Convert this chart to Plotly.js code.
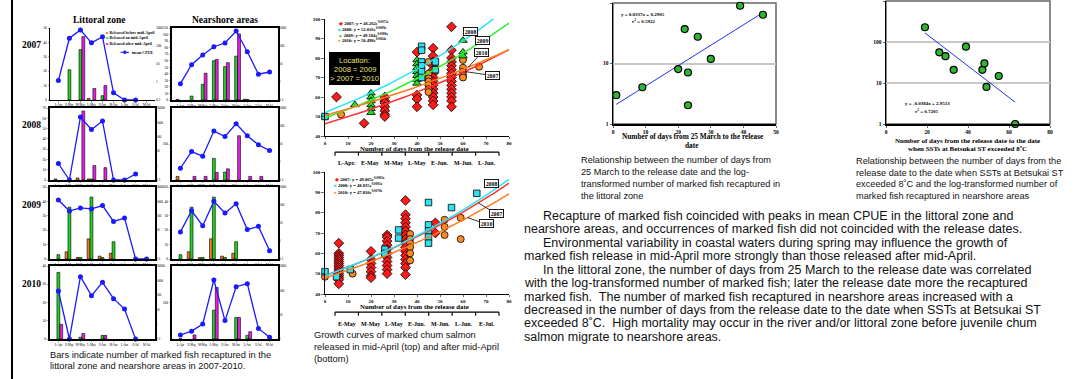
<!DOCTYPE html>
<html>
<head>
<meta charset="utf-8">
<script src="https://cdn.plot.ly/plotly-3.0.1.min.js"></script>
<style>
html,body{margin:0;padding:0;background:#ffffff;}
#chart{width:1078px;height:379px;}
</style>
</head>
<body>
<div id="chart"></div>
<script>
// ================= DATA =================
const periods = ['L-Apr','E-May','M-May','L-May','E-Jun','M-Jun','L-Jun','E-Jul','M-Jul'];
const years = ['2007','2008','2009','2010'];

// Littoral zone: number of recaptured marked fish (bars) and mean CPUE (line)
const lit07Before = [0,0,0,1,0,0,0,0,0];
const lit07On     = [0,21,35,0,3,0,0,0,0];
const lit07After  = [0,0,44,8,10,0,0,0,0];
const lit07Cpue   = [1.2,270,780,150,330,0.25,0.1,0.1,null];

const lit08Before = [1,0,2,1,0,0,0,0,0];
const lit08On     = [0,0,0,1,0,0,0,0,0];
const lit08After  = [0,0,67,14,12,0,0,0,0];
const lit08Cpue   = [1.4,0.1,2350,320,1240,0.1,0.1,0.26,null];

const lit09Before = [0,5,1,14,2,4,0,0,0];
const lit09On     = [3,36,1,43,1,12,0,0,0];
const lit09After  = [0,0,0,0,0,0,0,0,0];
const lit09Cpue   = [1250,215,350,300,510,41,70,0.1,0.1];

const lit10Before = [0,0,0,0,0,0,0,0,0];
const lit10On     = [36.5,0,1,0,2,0,0,0,0];
const lit10After  = [8,0,3,0,2,0,0,0,0];
const lit10Cpue   = [195,0.1,1860,93,760,58,11.3,0.1,null];

// Nearshore areas
const ns07Before = [1,0,0,0,0,0,1,0,0];
const ns07On     = [0,6,24,60,51,67,1,0,0];
const ns07After  = [0,0,41,62,57,101,0,0,0];
const ns07Cpue   = [0.81,9.2,32,91,146,680,48,2.7,3.6];

const ns08Before = [10,0,0,0,0,0,0,0,0];
const ns08On     = [0,0,0,60,22,0,0,0,0];
const ns08After  = [0,10,10,21,31,123,10,10,0];
const ns08Cpue   = [0.45,3.8,2.1,52,26,134,29,9,4.3];

const ns09Before = [0,5,1,14,2,4,0,0,0];
const ns09On     = [3,36,1,43,1,12,0,0,0];
const ns09After  = [0,0,0,0,0,0,0,0,0];
const ns09Cpue   = [3.2,48,7.1,159,36,118,4.3,6.5,0.29];

const ns10Before = [0,0,0,0,0,0,0,0,0];
const ns10On     = [1,0,0,79,0,59,10,0,0];
const ns10After  = [0,11,0,141,0,59,20,0,0];
const ns10Cpue   = [1.46,2.1,4.1,265,5.7,141,188,2.7,1.17];

// Growth of fish released in mid-April (top)
const gA07Days = [5,17,26,26,26,26,26,26,26,40,40,40,40,47,47,47,47,47,47,47,47,47,47,47,47,47,47,55,55,55,55,55,55,55,55,55,55,55,55,55,55,55];
const gA07Len  = [60,46.5,60,58,57,55,53,51,50,83,61,59,55,85,81,78,76,74,72,70,68,66,64,62,60,58,56,96,84,80,78,76,74,72,70,68,66,64,62,60,58,55];
const gA08Days = [0,42,42,42,42,42,42,48,48];
const gA08Len  = [50,86,84,78,76,73,70,78,74];
const gA09Days = [13,20,20,20,20,20,20,40,40,40,40,40,40,40,60,60,60];
const gA09Len  = [56,62,60,58,56,54,52,79,77,75,73,71,69,67,89,83,81];
const gA10Days = [0,7,45,45,45,45,45,45,45,60,60,60,60,60,67];
const gA10Len  = [50,51,78,72,69.5,68,66,64,62.5,79,75,73,71,70,75.5];
const gAFit = {'2007':[46.262,0.0075],'2008':[52.016,0.0089],'2009':[49.184,0.0086],'2010':[50.498,0.0064]};

// Growth of fish released after mid-April (bottom)
const gB07Days = [6,6,6,6,6,6,6,6,6,6,6,6,6,6,6,6,20,20,20,20,20,20,20,27,27,27,27,27,27,27,27,27,27,27,35,35,35,35,35,35,35,35,35,35,35,35,35,35,35,35,48,48];
const gB07Len  = [65,60,59,58,57,56,55,54,53,52,51,50,49,48,47,45,61,57,55,53,51,49,48,69,68,66,64,62,60,58,56,54,52,50,86,79,77,75,73,71,69,67,65,63,61,59,57,55,53,49.5,75,70];
const gB08Days = [0,5,11,26,26,32,32,45,45,45,45,45,55,66];
const gB08Len  = [51,48.5,52,62,60,71.5,67.5,85,74,71,68,65,82.5,89.5];
const gB10Days = [0,12,37,37,37,37,37,37,52,52,52,59,59];
const gB10Len  = [48.5,50,69.5,67,65,63,60,56.5,76.5,73,69,77.5,67];
const gBFit = {'2007':[49.065,0.0082],'2008':[48.835,0.0085],'2010':[47.810,0.0078]};

const monthsTop = ['L-Apr.','E-May','M-May','L-May','E-Jun.','M-Jun.','L-Jun.'];
const monthsBottom = ['E-May','M-May','L-May','E-Jun.','M-Jun.','L-Jun.','E-Jul.'];

// Littoral: days from 25 March to release vs recaptured fish
const litDays = [1,9,20,22,23,23,26,30,39,46];
const litFish = [3.0,4.05,8.1,37,7.1,2.04,27.7,11.9,90,64];
const litFit = [0.0337,0.2905];

// Nearshore: days from release to SST > 8C vs recaptured fish
const nsDays = [19,26,29,33,39,47,48,49,55,63];
const nsFish = [229,56,45,21,77,21,30,8,14.8,1];
const nsFit = [-0.0384,2.9513];

// ================= BUILD =================
const W = 1078, H = 379;
const SERIF = 'Liberation Serif, Times New Roman, serif';
const SANS = 'Liberation Sans, Arial, sans-serif';
const ORANGE = '#f07a1e', GREEN = '#1ed21e', MAGENTA = '#e61ee6', BLUE = '#1a1aff';
const id = n => n === 1 ? '' : String(n);
const dX = (a,b) => [a/W, b/W];
const dY = (t,b) => [1-b/H, 1-t/H];
const nz = arr => arr.map(v => v === 0 ? null : v);

const layout = {
  width: W, height: H, margin: {l:0,r:0,t:0,b:0},
  paper_bgcolor: '#ffffff', plot_bgcolor: 'rgba(0,0,0,0)',
  showlegend: false, barmode: 'group', bargap: 0.22, bargroupgap: 0,
  annotations: [], shapes: []
};
const traces = [];

function ann(x, y, text, size, o) {
  return Object.assign({xref:'paper', yref:'paper', x:x/W, y:1-y/H, text:text, showarrow:false,
    xanchor:'center', yanchor:'middle', font:{family:SANS, size:size, color:'#111'}}, o || {});
}
function bold(size, color) { return {family:SERIF, size:size, color:color || '#000', weight:'bold'}; }
function hline(x0,y0,x1,y1,w,c) {
  return {type:'line', xref:'paper', yref:'paper', x0:x0/W, x1:x1/W, y0:1-y0/H, y1:1-y1/H, line:{color:c||'#000', width:w||1}};
}

// ---- bar panels ----
const rightVals = [0.1,1,10,100,1000,10000];
const barCfg = [
  {b:lit07Before,o:lit07On,a:lit07After,c:lit07Cpue, xs:[50,155], ys:[28,100], left:[0,50], lt:[0,10,20,30,40,50], right:[-1,3], box:false},
  {b:ns07Before,o:ns07On,a:ns07After,c:ns07Cpue, xs:[172,278], ys:[28,100], left:[0,110], lt:[0,10,20,30,40,50,60,70,80,90,100,110], right:[-1,3], box:true},
  {b:lit08Before,o:lit08On,a:lit08After,c:lit08Cpue, xs:[50,155], ys:[108,180], left:[0,70], lt:[0,10,20,30,40,50,60,70], right:[-1,4], box:true},
  {b:ns08Before,o:ns08On,a:ns08After,c:ns08Cpue, xs:[172,278], ys:[108,180], left:[0,200], lt:[100], right:[-1,3], box:true},
  {b:lit09Before,o:lit09On,a:lit09After,c:lit09Cpue, xs:[50,155], ys:[187,259], left:[0,50], lt:[0,10,20,30,40,50], right:[-1,4], box:true},
  {b:ns09Before,o:ns09On,a:ns09After,c:ns09Cpue, xs:[172,278], ys:[187,259], left:[0,50], lt:[0,10,20,30,40,50], right:[-1,3], box:true},
  {b:lit10Before,o:lit10On,a:lit10After,c:lit10Cpue, xs:[50,155], ys:[266,339], left:[0,40], lt:[0,10,20,30,40], right:[-1,4], box:true},
  {b:ns10Before,o:ns10On,a:ns10After,c:ns10Cpue, xs:[172,278], ys:[266,339], left:[0,200], lt:[100], right:[0,3], box:true}
];
barCfg.forEach((p, i) => {
  const xn = i + 1, yl = i + 1, yr = i + 9;
  const xa = 'x' + id(xn), ya = 'y' + id(yl), yb = 'y' + id(yr);
  const lw = p.box ? 1.8 : 1;
  layout['xaxis' + id(xn)] = {domain: dX(p.xs[0], p.xs[1]), anchor: ya, type:'category',
    showline:true, linecolor:'#000', linewidth:lw, mirror:p.box, ticks:'outside', ticklen:1.5, tickwidth:0.5,
    tickangle:0, tickfont:{family:SERIF, size:3, color:'#000'}, showgrid:false, zeroline:false, fixedrange:true};
  layout['yaxis' + id(yl)] = {domain: dY(p.ys[0], p.ys[1]), anchor: xa, range:p.left, tickvals:p.lt,
    showline:true, linecolor:'#000', linewidth:lw, mirror:p.box, ticks:'outside', ticklen:1.5, tickwidth:0.5,
    tickfont:{family:SERIF, size:3.5, color:'#000'}, showgrid:false, zeroline:false, fixedrange:true};
  const rv = rightVals.filter(v => Math.log10(v) >= p.right[0] - 1e-9 && Math.log10(v) <= p.right[1] + 1e-9);
  layout['yaxis' + id(yr)] = {overlaying: ya, anchor: xa, side:'right', type:'log', range:p.right,
    tickvals: rv, ticktext: rv.map(String), showline:false, ticks:'', showgrid:false, zeroline:false,
    tickfont:{family:SERIF, size:3.5, color:'#000'}, fixedrange:true};
  [[p.b, ORANGE], [p.o, GREEN], [p.a, MAGENTA]].forEach(([vals, col]) => {
    traces.push({type:'bar', x:periods, y:nz(vals), xaxis:xa, yaxis:ya,
      marker:{color:col, line:{color:'#000', width:0.6}}, hoverinfo:'skip'});
  });
  traces.push({type:'scatter', mode:'lines+markers', x:periods, y:p.c, xaxis:xa, yaxis:yb,
    line:{color:BLUE, width:1.3}, marker:{color:BLUE, size:5}, cliponaxis:false, hoverinfo:'skip'});
});

// titles & year labels
layout.annotations.push(ann(100, 20, 'Littoral zone', 9.5, {font:bold(9.5)}));
layout.annotations.push(ann(225, 20, 'Nearshore areas', 9.5, {font:bold(9.5)}));
[45, 125, 205, 284].forEach((yy, k) => layout.annotations.push(ann(31.5, yy, years[k], 9.5, {font:bold(9.5)})));
// bar legend
const legItems = [['Released before mid-April', ORANGE, 32.3], ['Released on mid-April', GREEN, 38], ['Released after mid-April', MAGENTA, 43]];
legItems.forEach(([t, c, yy]) => {
  layout.annotations.push(ann(103.5, yy, '<span style="color:' + c + '">■</span> ' + t, 4, {xanchor:'left', font:bold(4)}));
});
layout.shapes.push(hline(120.5, 52.3, 129, 52.3, 1, BLUE));
layout.shapes.push({type:'circle', xref:'paper', yref:'paper', x0:123.3/W, x1:126.3/W, y0:1-53.8/H, y1:1-50.8/H, fillcolor:BLUE, line:{color:BLUE, width:0.5}});
layout.annotations.push(ann(130, 52.3, 'mean CPUE', 4, {xanchor:'left', font:bold(4)}));
// caption 1
layout.annotations.push(ann(47.5, 355, 'Bars indicate number of marked fish recaptured in the', 9.3, {xanchor:'left'}));
layout.annotations.push(ann(47.5, 366, 'littoral zone and nearshore areas in 2007-2010.', 9.3, {xanchor:'left'}));
// left rule
layout.shapes.push(hline(12, 0, 12, 379, 2, '#000'));

// ---- growth panels ----
function growthAxes(xn, yn, ys) {
  layout['xaxis' + id(xn)] = {domain: dX(325, 509), anchor:'y' + id(yn), range:[0,80], dtick:10, tick0:0,
    showline:true, linecolor:'#000', linewidth:1.2, ticks:'outside', ticklen:1.5, tickwidth:0.8,
    tickfont:bold(5), showgrid:false, zeroline:false, fixedrange:true};
  layout['yaxis' + id(yn)] = {domain: dY(ys[0], ys[1]), anchor:'x' + id(xn), range:[40,100], dtick:10, tick0:40,
    showline:true, linecolor:'#000', linewidth:1.2, ticks:'outside', ticklen:2.5, tickwidth:0.8,
    tickfont:bold(5), showgrid:false, zeroline:false, fixedrange:true};
}
growthAxes(9, 17, [19, 136]);
growthAxes(10, 18, [172, 294]);
const sty = {
  '2007': {symbol:'diamond', color:'#ff1a1a', line:'#ff3030', size:7.5},
  '2008': {symbol:'square', color:'#2fe0f2', line:'#22e6f6', size:6.5},
  '2009': {symbol:'triangle-up', color:'#22dd22', line:'#33ee33', size:7.5},
  '2010': {symbol:'circle', color:'#ff8a1f', line:'#ff7a1a', size:7}
};
function pts(xs, ys, yr, xa, ya) {
  const s = sty[yr];
  traces.push({type:'scatter', mode:'markers', x:xs, y:ys, xaxis:xa, yaxis:ya, cliponaxis:false,
    marker:{symbol:s.symbol, size:s.size, color:s.color, line:{color:'#000', width:0.8}}, hoverinfo:'skip'});
}
function curve(c, yr, xa, ya) {
  const xs = [], ys = [];
  for (let d = 0; d <= 80; d += 1) { xs.push(d); ys.push(c[0] * Math.exp(c[1] * d)); }
  traces.push({type:'scatter', mode:'lines', x:xs, y:ys, xaxis:xa, yaxis:ya,
    line:{color:sty[yr].line, width:1.5}, hoverinfo:'skip'});
}
pts(gA07Days, gA07Len, '2007', 'x9', 'y17');
pts(gA10Days, gA10Len, '2010', 'x9', 'y17');
pts(gA09Days, gA09Len, '2009', 'x9', 'y17');
pts(gA08Days, gA08Len, '2008', 'x9', 'y17');
Object.keys(gAFit).forEach(k => curve(gAFit[k], k, 'x9', 'y17'));
pts(gB07Days, gB07Len, '2007', 'x10', 'y18');
pts(gB10Days, gB10Len, '2010', 'x10', 'y18');
pts(gB08Days, gB08Len, '2008', 'x10', 'y18');
Object.keys(gBFit).forEach(k => curve(gBFit[k], k, 'x10', 'y18'));

// growth legends
const symChar = {'2007':'◆','2008':'■','2009':'▲','2010':'●'};
const fmtFit = (k, c) => '<span style="color:' + sty[k].color + '">' + symChar[k] + '</span> ' + k + ': y = ' + c[0].toFixed(3) + 'e<sup>' + c[1].toFixed(4) + 'x</sup>';
Object.keys(gAFit).forEach((k, j) => layout.annotations.push(ann(335.5, 23.3 + j * 5.6, fmtFit(k, gAFit[k]), 4.6, {xanchor:'left', font:bold(4.6)})));
Object.keys(gBFit).forEach((k, j) => layout.annotations.push(ann(332, 179 + j * 6.4, fmtFit(k, gBFit[k]), 4.6, {xanchor:'left', font:bold(4.6)})));
// location box
layout.shapes.push({type:'rect', xref:'paper', yref:'paper', x0:329/W, x1:380/W, y0:1-85/H, y1:1-52/H, fillcolor:'#000', line:{width:0}});
[['Location:', 60], ['2008 = 2009', 70], ['> 2007 = 2010', 78.6]].forEach(([t, yy]) =>
  layout.annotations.push(ann(354.6, yy, t, 7.6, {font:{family:SANS, size:7.6, color:'#ece27a'}})));
// growth axis titles, brackets, months
layout.annotations.push(ann(414, 148.2, 'Number of days from the release date', 6.8, {font:bold(6.8)}));
layout.annotations.push(ann(414, 306.8, 'Number of days from the release date', 6.8, {font:bold(6.8)}));
function bracket(yb, labels, ly) {
  const t0 = 335, step = (499 - 335) / 7;
  layout.shapes.push(hline(t0, yb, 499, yb, 1.2));
  for (let k = 0; k <= 7; k++) layout.shapes.push(hline(t0 + k * step, yb, t0 + k * step, yb + 3.5, 1.2));
  labels.forEach((t, k) => layout.annotations.push(ann(t0 + (k + 0.5) * step, ly, t, 6, {font:bold(6)})));
}
bracket(152.2, monthsTop, 162.9);
bracket(312.2, monthsBottom, 323.5);
// curve label boxes
const boxFont = bold(5.8);
function lbox(x, y, t) { return ann(x, y, t, 5.8, {font:boxFont, bordercolor:'#000', borderwidth:0.9, borderpad:0.8, bgcolor:'#fff'}); }
function abox(xa, ya, c, d, t, ax, ay) {
  return {xref:xa, yref:ya, x:d, y:c[0] * Math.exp(c[1] * d), text:t, showarrow:true, arrowhead:0, arrowwidth:0.8, arrowcolor:'#000',
    ax:ax, ay:ay, font:boxFont, bordercolor:'#000', borderwidth:0.9, borderpad:0.8, bgcolor:'#fff'};
}
layout.annotations.push(lbox(470, 31.3, '2008'));
layout.annotations.push(lbox(482, 41, '2009'));
layout.annotations.push(abox('x9', 'y17', gAFit['2010'], 62.3, '2010', 13, -14.5));
layout.annotations.push(abox('x9', 'y17', gAFit['2007'], 60.9, '2007', 27, 4));
layout.annotations.push(lbox(491, 183, '2008'));
layout.annotations.push(abox('x10', 'y18', gBFit['2007'], 66.7, '2007', 18, 11));
layout.annotations.push(abox('x10', 'y18', gBFit['2010'], 62, '2010', 18.5, 6.3));
// caption 2
[['Growth curves of marked chum salmon', 335], ['released in mid-April (top) and after mid-April', 347], ['(bottom)', 359]].forEach(([t, yy]) =>
  layout.annotations.push(ann(312, yy, t, 9.3, {xanchor:'left'})));

// ---- scatter panels ----
function scatAxes(xn, yn, xs, ys, xr, dt, yr, yv) {
  layout['xaxis' + id(xn)] = {domain: dX(xs[0], xs[1]), anchor:'y' + id(yn), range:xr, dtick:dt, tick0:0,
    showline:true, linecolor:'#000', linewidth:1.5, ticks:'outside', ticklen:2, tickwidth:0.8,
    tickfont:bold(5.5), showgrid:false, zeroline:false, fixedrange:true};
  layout['yaxis' + id(yn)] = {domain: dY(ys[0], ys[1]), anchor:'x' + id(xn), type:'log', range:yr,
    tickvals:yv, ticktext:yv.map(String), showline:true, linecolor:'#000', linewidth:1.5, ticks:'outside', ticklen:2, tickwidth:0.8,
    tickfont:bold(5.5), showgrid:true, gridcolor:'#c8c8c8', gridwidth:2, zeroline:false, fixedrange:true};
  layout.shapes.push({type:'rect', xref:'x' + id(xn) + ' domain', yref:'y' + id(yn) + ' domain', x0:0, x1:1, y0:0, y1:1,
    line:{color:'#666', width:1.5}, layer:'below'});
}
scatAxes(11, 19, [613, 776], [3, 124], [0, 50], 10, [0, 2], [1, 10, 100]);
scatAxes(12, 20, [886, 1050], [1, 124], [0, 80], 20, [0, 3], [1, 10, 100, 1000]);
function fitLine(days, f, xa, ya) {
  const lo = Math.min(...days), hi = Math.max(...days);
  const xs = [lo, hi], ys = xs.map(d => Math.pow(10, f[0] * d + f[1]));
  traces.push({type:'scatter', mode:'lines', x:xs, y:ys, xaxis:xa, yaxis:ya, line:{color:'#2233ee', width:1}, hoverinfo:'skip'});
}
fitLine(litDays, litFit, 'x11', 'y19');
fitLine(nsDays, nsFit, 'x12', 'y20');
[[litDays, litFish, 'x11', 'y19'], [nsDays, nsFish, 'x12', 'y20']].forEach(([xs, ys, xa, ya]) =>
  traces.push({type:'scatter', mode:'markers', x:xs, y:ys, xaxis:xa, yaxis:ya, cliponaxis:false,
    marker:{symbol:'circle', size:7, color:'#2fb52f', line:{color:'#000', width:1.2}}, hoverinfo:'skip'}));
layout.annotations.push(ann(643, 14.3, 'y = ' + litFit[0] + 'x + ' + litFit[1], 5, {font:bold(5)}));
layout.annotations.push(ann(644, 21.3, 'r<sup>2</sup> = 0.5922', 5, {font:bold(5)}));
layout.annotations.push(ann(927.3, 103.3, 'y = ' + nsFit[0] + 'x + ' + nsFit[1], 5, {font:bold(5)}));
layout.annotations.push(ann(927.3, 110.7, 'r<sup>2</sup> = 0.7205', 5, {font:bold(5)}));
layout.annotations.push(ann(693.3, 136.7, 'Number of days from 25 March to the release', 7.3, {font:bold(7.3)}));
layout.annotations.push(ann(692.3, 145.7, 'date', 7.3, {font:bold(7.3)}));
layout.annotations.push(ann(967.7, 140.7, 'Number of days from the release date to the date', 7, {font:bold(7)}));
layout.annotations.push(ann(967.7, 148.7, 'when SSTs at Betsukai ST exceeded 8ºC', 7, {font:bold(7)}));
// captions 3 & 4
['Relationship between the number of days from', '25 March to the release date and the log-', 'transformed number of marked fish recaptured in', 'the littoral zone']
  .forEach((t, k) => layout.annotations.push(ann(579, 160.5 + k * 11.7, t, 9.2, {xanchor:'left'})));
['Relationship between the number of days from the', 'release date to the date when SSTs at Betsukai ST', 'exceeded 8˚C and the log-transformed number of', 'marked fish recaptured in nearshore areas']
  .forEach((t, k) => layout.annotations.push(ann(854, 161 + k * 11.7, t, 9.2, {xanchor:'left'})));

// ---- summary text ----
const summary = [
  [true, 'Recapture of marked fish coincided with peaks in mean CPUE in the littoral zone and'],
  [false, 'nearshore areas, and occurrences of marked fish did not coincided with the release dates.'],
  [true, 'Environmental variability in coastal waters during spring may influence the growth of'],
  [false, 'marked fish release in mid-April more strongly than those released after mid-April.'],
  [true, 'In the littoral zone, the number of days from 25 March to the release date was correlated'],
  [false, 'with the log-transformed number of marked fish; later the release date more the recaptured'],
  [false, 'marked fish.  The number of marked fish recaptured in nearshore areas increased with a'],
  [false, 'decreased in the number of days from the release date to the date when SSTs at Betsukai ST'],
  [false, 'exceeded 8˚C.  High mortality may occur in the river and/or littoral zone before juvenile chum'],
  [false, 'salmon migrate to nearshore areas.']
];
summary.forEach(([ind, t], k) => layout.annotations.push(ann(ind ? 540.5 : 521.5, 216 + k * 13.42, t.replace(/  /g, '&nbsp; '), 12.5, {xanchor:'left'})));

Plotly.newPlot('chart', traces, layout, {staticPlot:true, displayModeBar:false});
</script>
</body>
</html>
